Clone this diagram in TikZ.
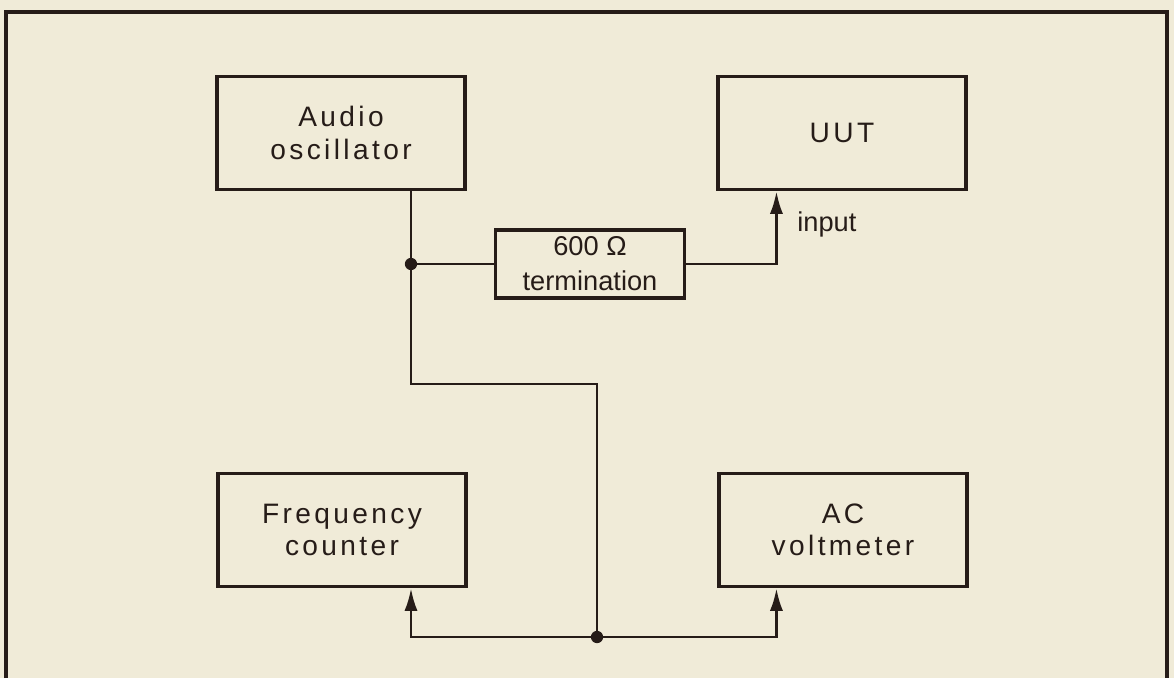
\documentclass[tikz,border=0pt]{standalone}
\usepackage{fontspec}
\setmainfont{Liberation Sans}
\newfontfamily\spacedfont{Liberation Sans}[LetterSpace=12]
\usetikzlibrary{arrows.meta}
\definecolor{paper}{RGB}{240,235,216}
\definecolor{ink}{RGB}{38,28,24}

\begin{document}
\begin{tikzpicture}[
    x=0.02cm, y=-0.02cm,
    wire/.style={ink, line width=1.7pt},
    feed/.style={wire, -{Latex[length=13pt,width=7.5pt]}},
    unit/.style={draw=ink, text=ink, line width=1.8pt,
                 minimum width=4.96cm, minimum height=2.26cm, align=center,
                 font=\spacedfont\fontsize{16}{18.5}\selectfont},
    termbox/.style={draw=ink, text=ink, line width=1.8pt,
                 minimum width=3.78cm, minimum height=1.36cm, align=center,
                 font=\fontsize{15.5}{20}\selectfont},
    lbl/.style={text=ink, font=\fontsize{15.5}{18}\selectfont,
                anchor=west, inner sep=0pt}
]

% ---------- paper and frame ----------
\fill[paper] (0,0) rectangle (1174,678);
\draw[ink, line width=1.8pt] (6,678) -- (6,12) -- (1167,12) -- (1167,678);

% ---------- units ----------
\node[unit] (osc)  at (341,133) {Audio\\oscillator};
\node[unit] (uut)  at (842,133) {UUT};
\node[unit] (freq) at (342,530) {Frequency\\counter};
\node[unit] (volt) at (843,530) {AC\\voltmeter};
\node[termbox] (term) at (590,264) {600 Ω\\termination};
\node[lbl] (inlbl) at (797,224) {input};

% ---------- junctions ----------
\coordinate (jtop) at (411,264);
\coordinate (jmid) at (597,384);
\coordinate (jbot) at (597,637);
\path (uut.south west) ++(60,0) coordinate (uin);

% ---------- wiring ----------
\draw[wire] (osc.south -| jtop) -- (jtop) |- (jmid) -- (jbot);
\draw[wire] (jtop) -- (term.west);
\draw[feed] (term.east) -| (uin);
\draw[feed] (jbot) -| (freq.south -| jtop);
\draw[feed] (jbot) -| (volt.south -| uin);

% ---------- junction dots ----------
\foreach \p in {jtop,jbot}
  \fill[ink] (\p) circle (3.5pt);

\end{tikzpicture}
\end{document}
